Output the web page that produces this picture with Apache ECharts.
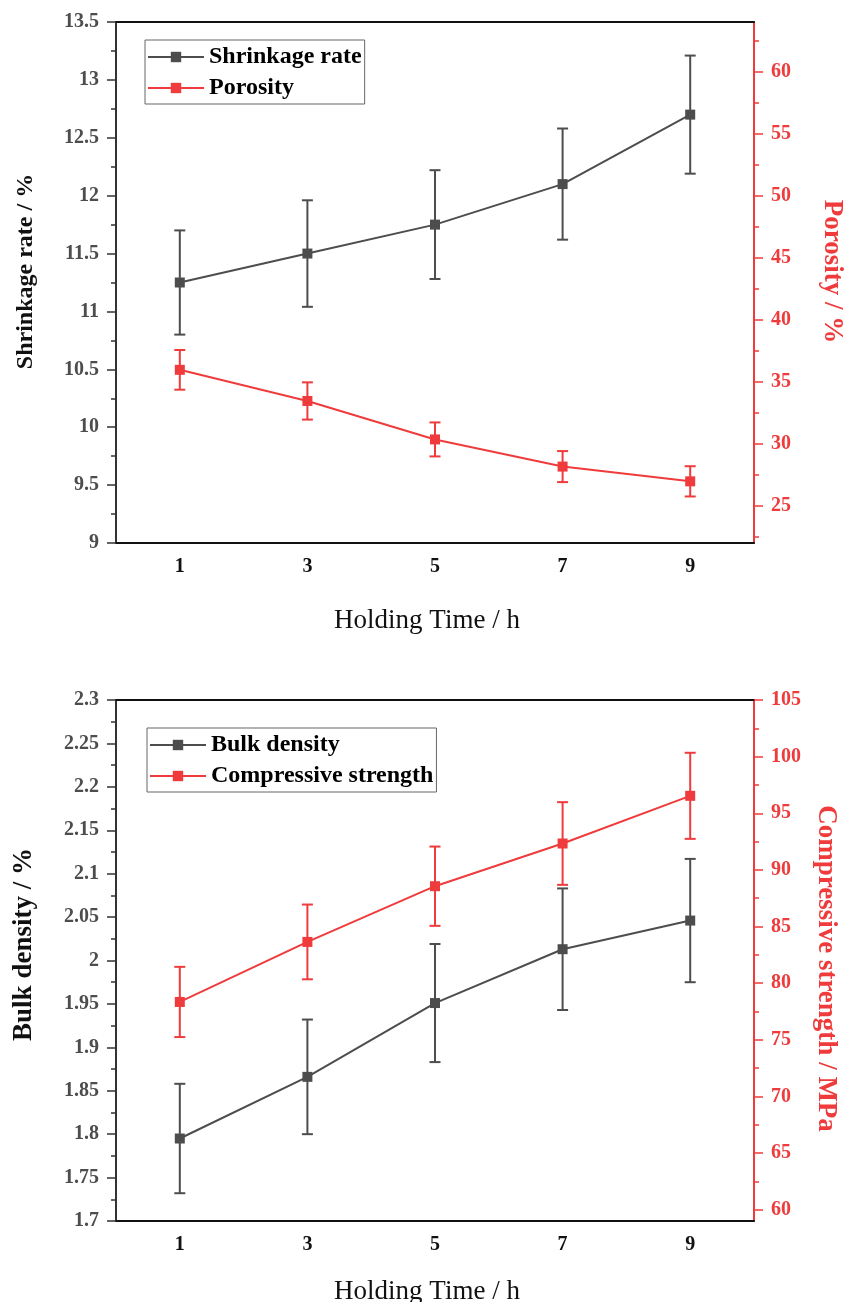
<!DOCTYPE html>
<html>
<head>
<meta charset="utf-8">
<title>Holding time effects</title>
<script src="https://cdn.jsdelivr.net/npm/echarts@6/dist/echarts.min.js"></script>
<style>
  html, body { margin: 0; padding: 0; background: #ffffff; }
  #chart { width: 845px; height: 1302px; }
</style>
</head>
<body>
<div id="chart"></div>
<script>
// Holding time (h) categories shared by both panels
const holdingTime = ['1', '3', '5', '7', '9'];

// Upper panel: shrinkage rate (%) and porosity (%) with standard deviations
const shrinkageRate = [11.25, 11.50, 11.75, 12.10, 12.70];
const shrinkageErr = [0.45, 0.46, 0.47, 0.48, 0.51];
const porosity = [35.96, 33.45, 30.35, 28.16, 26.97];
const porosityErr = [1.60, 1.50, 1.37, 1.25, 1.22];

// Lower panel: bulk density and compressive strength (MPa) with standard deviations
const bulkDensity = [1.795, 1.866, 1.951, 2.013, 2.046];
const bulkDensityErr = [0.063, 0.066, 0.068, 0.070, 0.071];
const compressiveStrength = [78.34, 83.64, 88.56, 92.33, 96.54];
const compressiveErr = [3.10, 3.30, 3.50, 3.65, 3.80];

// Tick positions for the secondary (right-hand) axes
const porosityTicks = [25, 30, 35, 40, 45, 50, 55, 60];
const porosityMinorTicks = [22.5, 27.5, 32.5, 37.5, 42.5, 47.5, 52.5, 57.5, 62.5];
const strengthTicks = [60, 65, 70, 75, 80, 85, 90, 95, 100, 105];
const strengthMinorTicks = [62.5, 67.5, 72.5, 77.5, 82.5, 87.5, 92.5, 97.5, 102.5];

const FONT = "'Liberation Serif', 'Times New Roman', serif";
const GRAY = '#4d4d4d';
const RED = '#ef3b3b';

function errorData(values, errs) {
  return values.map((v, i) => [i, v - errs[i], v + errs[i]]);
}

function errorBarItem(params, api) {
  const x = api.value(0);
  const lo = api.coord([x, api.value(1)]);
  const hi = api.coord([x, api.value(2)]);
  const cap = 5.5;
  const style = { stroke: api.visual('color'), lineWidth: 2, fill: null };
  return {
    type: 'group',
    children: [
      { type: 'line', shape: { x1: lo[0], y1: lo[1], x2: hi[0], y2: hi[1] }, style: style },
      { type: 'line', shape: { x1: lo[0] - cap, y1: lo[1], x2: lo[0] + cap, y2: lo[1] }, style: style },
      { type: 'line', shape: { x1: hi[0] - cap, y1: hi[1], x2: hi[0] + cap, y2: hi[1] }, style: style }
    ]
  };
}

function bottomAxis(gridIndex, nameGap) {
  return {
    type: 'category',
    gridIndex: gridIndex,
    position: 'bottom',
    data: holdingTime,
    boundaryGap: true,
    axisLine: { onZero: false, lineStyle: { color: '#111', width: 2 } },
    axisTick: { alignWithLabel: true, inside: false, length: 8, lineStyle: { color: '#111', width: 2 } },
    axisLabel: { margin: 14, color: '#111', fontFamily: FONT, fontWeight: 'bold', fontSize: 20 },
    splitLine: { show: false },
    name: 'Holding Time / h',
    nameLocation: 'middle',
    nameGap: nameGap,
    nameTextStyle: { color: '#111', fontFamily: FONT, fontSize: 27, padding: [0, 16, 0, 0] }
  };
}

function topFrame(gridIndex) {
  return {
    type: 'category',
    gridIndex: gridIndex,
    position: 'top',
    data: holdingTime,
    axisLine: { onZero: false, lineStyle: { color: '#111', width: 2 } },
    axisTick: { show: false },
    axisLabel: { show: false },
    splitLine: { show: false }
  };
}

function leftAxis(gridIndex, min, max, interval, name, fontSize, nameGap, namePadding) {
  return {
    type: 'value',
    gridIndex: gridIndex,
    position: 'left',
    min: min,
    max: max,
    interval: interval,
    axisLine: { show: true, onZero: false, lineStyle: { color: '#333', width: 2 } },
    axisTick: { show: true, inside: false, length: 9, lineStyle: { color: '#333', width: 1.5 } },
    minorTick: { show: true, splitNumber: 2, length: 5, lineStyle: { color: '#333', width: 1.5 } },
    axisLabel: { margin: 17, color: GRAY, fontFamily: FONT, fontWeight: 'bold', fontSize: 20 },
    splitLine: { show: false },
    minorSplitLine: { show: false },
    name: name,
    nameLocation: 'middle',
    nameGap: nameGap,
    nameTextStyle: { color: '#111', fontFamily: FONT, fontWeight: 'bold', fontSize: fontSize, padding: namePadding }
  };
}

function rightAxis(gridIndex, min, max, ticks, name, nameGap, namePadding) {
  return {
    type: 'value',
    gridIndex: gridIndex,
    position: 'right',
    min: min,
    max: max,
    axisLine: { show: true, onZero: false, lineStyle: { color: RED, width: 2 } },
    axisTick: { show: true, inside: false, length: 9, customValues: ticks, lineStyle: { color: RED, width: 1.5 } },
    axisLabel: { margin: 17, customValues: ticks, color: RED, fontFamily: FONT, fontWeight: 'bold', fontSize: 20 },
    splitLine: { show: false },
    name: name,
    nameLocation: 'middle',
    nameGap: nameGap,
    nameRotate: -90,
    nameTextStyle: { color: RED, fontFamily: FONT, fontWeight: 'bold', fontSize: 27, padding: namePadding }
  };
}

function rightMinorAxis(gridIndex, min, max, ticks) {
  return {
    type: 'value',
    gridIndex: gridIndex,
    position: 'right',
    min: min,
    max: max,
    axisLine: { show: false, onZero: false },
    axisTick: { show: true, inside: false, length: 5, customValues: ticks, lineStyle: { color: RED, width: 1.5 } },
    axisLabel: { show: false, customValues: ticks },
    splitLine: { show: false }
  };
}

function lineSeries(name, data, color, xIdx, yIdx) {
  return {
    name: name,
    type: 'line',
    xAxisIndex: xIdx,
    yAxisIndex: yIdx,
    data: data,
    symbol: 'rect',
    symbolSize: 10,
    showSymbol: true,
    lineStyle: { color: color, width: 2 },
    itemStyle: { color: color },
    z: 3
  };
}

function errorSeries(values, errs, color, xIdx, yIdx) {
  return {
    type: 'custom',
    xAxisIndex: xIdx,
    yAxisIndex: yIdx,
    data: errorData(values, errs),
    encode: { x: 0, y: [1, 2] },
    itemStyle: { color: color },
    renderItem: errorBarItem,
    silent: true,
    z: 2
  };
}

function legend(left, top, names) {
  return {
    orient: 'vertical',
    left: left,
    top: top,
    data: names,
    itemWidth: 56,
    itemHeight: 13,
    itemGap: 5,
    padding: [4, 3, 3, 2],
    borderColor: '#666',
    borderWidth: 1,
    borderRadius: 0,
    textStyle: { color: '#000', fontFamily: FONT, fontWeight: 'bold', fontSize: 24, lineHeight: 26 }
  };
}

const chart = echarts.init(document.getElementById('chart'), null, { renderer: 'canvas' });

chart.setOption({
  animation: false,
  backgroundColor: '#ffffff',
  grid: [
    { left: 116, top: 22, width: 638, height: 521, containLabel: false, outerBoundsMode: 'none' },
    { left: 116, top: 700, width: 638, height: 521, containLabel: false, outerBoundsMode: 'none' }
  ],
  legend: [
    legend(145, 40, ['Shrinkage rate', 'Porosity']),
    legend(147, 728, ['Bulk density', 'Compressive strength'])
  ],
  xAxis: [bottomAxis(0, 64), topFrame(0), bottomAxis(1, 57), topFrame(1)],
  yAxis: [
    leftAxis(0, 9, 13.5, 0.5, 'Shrinkage rate / %', 24, 78, [0, 0, 0, 22]),
    rightAxis(0, 22, 64, porosityTicks, 'Porosity / %', 64, [0, 22, 0, 0]),
    rightMinorAxis(0, 22, 64, porosityMinorTicks),
    leftAxis(1, 1.7, 2.3, 0.05, 'Bulk density / %', 27, 78, [0, 0, 0, 32]),
    rightAxis(1, 59, 105, strengthTicks, 'Compressive strength / MPa', 58, [0, 0, 0, 16]),
    rightMinorAxis(1, 59, 105, strengthMinorTicks)
  ],
  series: [
    errorSeries(shrinkageRate, shrinkageErr, GRAY, 0, 0),
    errorSeries(porosity, porosityErr, RED, 0, 1),
    lineSeries('Shrinkage rate', shrinkageRate, GRAY, 0, 0),
    lineSeries('Porosity', porosity, RED, 0, 1),
    errorSeries(bulkDensity, bulkDensityErr, GRAY, 2, 3),
    errorSeries(compressiveStrength, compressiveErr, RED, 2, 4),
    lineSeries('Bulk density', bulkDensity, GRAY, 2, 3),
    lineSeries('Compressive strength', compressiveStrength, RED, 2, 4)
  ]
});
</script>
</body>
</html>
